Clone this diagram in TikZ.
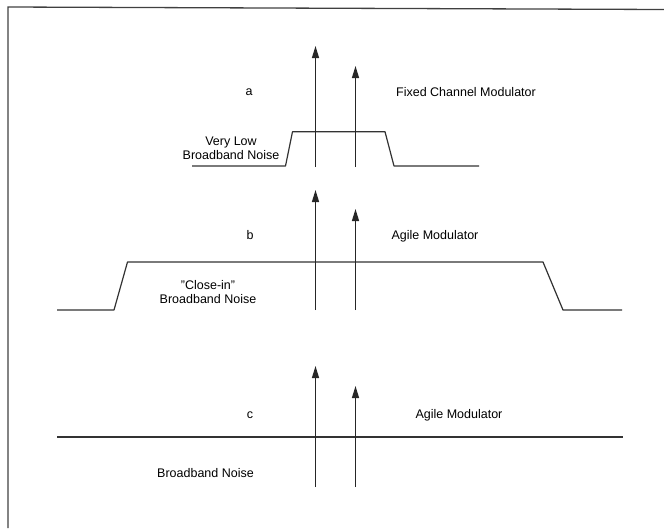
\documentclass[tikz,border=0pt]{standalone}
\usepackage{fontspec}
\setmainfont{Liberation Sans}
\usetikzlibrary{arrows.meta}

\begin{document}
\begin{tikzpicture}[
    x=1pt, y=-1pt,
    lbl/.style={font=\fontsize{12.5}{14}\selectfont, inner sep=0pt, align=center},
    carrier/.style={-{Triangle[width=7pt,length=12pt]}, line width=1.3pt, draw=black!85},
    noise/.style={line width=1.2pt, draw=black!80, line join=round},
    frame/.style={line width=1.3pt, draw=black!75}
]
    \useasboundingbox (0,0) rectangle (664,528);
    \draw [frame] (8,528) -- (8,7) -- (664,9.5);

    % a: fixed channel
    \draw [noise] (192,166) -- (285.5,166) -- (292.5,131.7) -- (385,131.7) -- (394,166) -- (479,166);
    \coordinate (a1s) at (315.5,167);
    \coordinate (a1t) at (315.5,46);
    \coordinate (a2s) at (355.5,167);
    \coordinate (a2t) at (355.5,66);
    \draw [carrier] (a1s) -- (a1t);
    \draw [carrier] (a2s) -- (a2t);
    \node [lbl] (la) at (249,92) {a};
    \node [lbl] (fixed) at (466,92) {Fixed Channel Modulator};
    \node [lbl] (lownoise) at (231,148) {Very Low\\Broadband Noise};

    % b: agile, close-in noise
    \draw [noise] (57,310) -- (114,310) -- (127.5,262) -- (543,262) -- (563,310) -- (622,310);
    \coordinate (b1s) at (315.5,310);
    \coordinate (b1t) at (315.5,190);
    \coordinate (b2s) at (355.5,310);
    \coordinate (b2t) at (355.5,209);
    \draw [carrier] (b1s) -- (b1t);
    \draw [carrier] (b2s) -- (b2t);
    \node [lbl] (lb) at (250,235) {b};
    \node [lbl] (agileb) at (435,236) {Agile Modulator};
    \node [lbl] (closein) at (208,292) {"Close-in"\\Broadband Noise};

    % c: agile, flat noise
    \draw [noise] (57,437) -- (623,437);
    \coordinate (c1s) at (315.5,487);
    \coordinate (c1t) at (315.5,366);
    \coordinate (c2s) at (355.5,487);
    \coordinate (c2t) at (355.5,386);
    \draw [carrier] (c1s) -- (c1t);
    \draw [carrier] (c2s) -- (c2t);
    \node [lbl] (lc) at (250,415) {c};
    \node [lbl] (agilec) at (459,415) {Agile Modulator};
    \node [lbl] (flatnoise) at (205.5,473) {Broadband Noise};
\end{tikzpicture}
\end{document}
